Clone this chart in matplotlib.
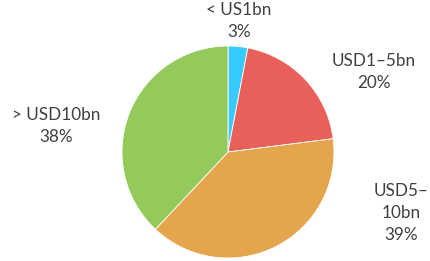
import matplotlib.pyplot as plt

labels = ['< US1bn', 'USD1\u20135bn', 'USD5\u2013\n10bn', '> USD10bn']
shares = [3, 20, 39, 38]
colors = ['#36CBFC', '#E9605A', '#E5A54C', '#93CA5B']

# label block centres in pixel coordinates (x, y from top)
label_pos = [(239, 21), (374, 72), (401, 213), (56, 126)]

plt.rcParams['font.family'] = ['Lato', 'DejaVu Sans']

fig = plt.figure(figsize=(4.3, 2.61), dpi=100)
ax = fig.add_axes([0, 0, 1, 1])

ax.pie(shares, colors=colors, startangle=90, counterclock=False,
       center=(228, 261 - 152), radius=106, frame=True,
       wedgeprops={'linewidth': 0.6, 'edgecolor': 'white'})
ax.set_xlim(0, 430)
ax.set_ylim(0, 261)
ax.set_aspect('equal')
ax.axis('off')

for lab, val, (x, y) in zip(labels, shares, label_pos):
    ax.text(x, 261 - y, f'{lab}\n{val}%', ha='center', va='center',
            fontsize=12.3, color='#404040', linespacing=1.5)

fig.savefig('out.png', dpi=100)
